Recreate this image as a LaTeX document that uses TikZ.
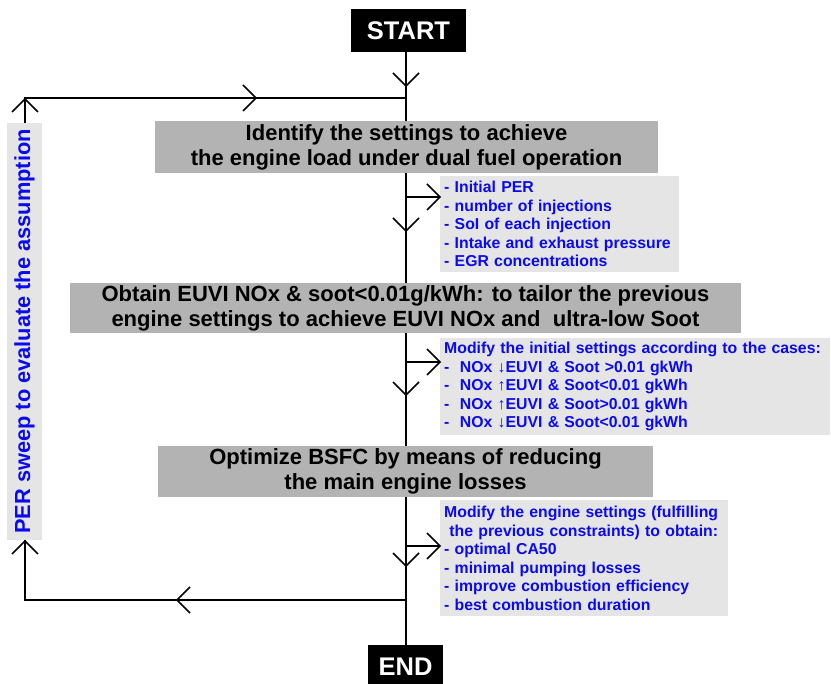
\documentclass[tikz,border=0pt]{standalone}
\usepackage{fontspec}
\setmainfont{Liberation Sans}
\usetikzlibrary{backgrounds}
\definecolor{boxgray}{RGB}{179,179,179}
\definecolor{lightbox}{RGB}{229,229,229}
\definecolor{txtblue}{RGB}{10,10,240}
\begin{document}
\begin{tikzpicture}[x=1pt,y=-1pt,
  flow/.style={line width=1.6pt, black},
  mainbox/.style={fill=boxgray, inner sep=0pt, align=center, font=\fontsize{22}{25}\selectfont\bfseries},
  notebox/.style={fill=lightbox, inner xsep=4pt, inner ysep=0pt, align=left, anchor=north west,
    font=\fontsize{15.8}{18.5}\selectfont\bfseries, text=txtblue,
    execute at begin node={\hyphenpenalty=10000\exhyphenpenalty=10000}},
  termbox/.style={fill=black, text=white, inner sep=0pt, font=\fontsize{25.5}{28}\selectfont\bfseries},
  chevD/.pic={\draw[flow] (-13,-13) -- (0,0) -- (13,-13);},
  chevU/.pic={\draw[flow] (-13,13) -- (0,0) -- (13,13);},
  chevR/.pic={\draw[flow] (-13,-13) -- (0,0) -- (-13,13);},
  chevL/.pic={\draw[flow] (13,-13) -- (0,0) -- (13,13);}
]
\useasboundingbox (0,0) rectangle (831,684);

% terminals
\node[termbox, minimum width=115pt, minimum height=43pt] (start) at (408.5,30.5) {START};
\node[termbox, minimum width=75pt, minimum height=39pt, text depth=0pt] (end) at (405.5,664.5) {\raisebox{-4pt}{END}};

% main process boxes
\node[mainbox, minimum width=503pt, minimum height=52pt] (b1) at (406.5,147)
  {Identify the settings to achieve\\the engine load under dual fuel operation};
\node[mainbox, minimum width=671pt, minimum height=50pt] (b2) at (405.5,308)
  {Obtain EUVI NOx \& soot<0.01g/kWh: to tailor the previous\\engine settings to achieve EUVI NOx and\ \ ultra-low Soot};
\node[mainbox, minimum width=495pt, minimum height=51pt] (b3) at (405.5,471.5)
  {Optimize BSFC by means of reducing\\the main engine losses};

% note boxes
\node[notebox, text width=231pt, minimum height=96pt] (l1) at (440,176)
  {- Initial PER\\- number of injections\\- SoI of each injection\\- Intake and exhaust pressure\\- EGR concentrations};
\node[notebox, text width=382pt, minimum height=97pt] (l2) at (440,338)
  {Modify the initial settings according to the cases:\\
   -\ \ NOx ↓EUVI \& Soot >0.01 gkWh\\
   -\ \ NOx ↑EUVI \& Soot<0.01 gkWh\\
   -\ \ NOx ↑EUVI \& Soot>0.01 gkWh\\
   -\ \ NOx ↓EUVI \& Soot<0.01 gkWh};
\node[notebox, text width=280pt, minimum height=116pt] (l3) at (440,500)
  {Modify the engine settings (fulfilling\\
   \ the previous constraints) to obtain:\\
   - optimal CA50\\- minimal pumping losses\\- improve combustion efficiency\\- best combustion duration};

% loop label
\node[fill=lightbox, rotate=90, minimum width=417pt, minimum height=35pt, inner sep=0pt,
      font=\fontsize{21.8}{25}\selectfont\bfseries, text=txtblue] (per) at (24.5,331.5)
  {PER sweep to evaluate the assumption};

% junction coordinates
\coordinate (top) at (406,98);
\coordinate (c1) at (25,98);
\coordinate (c2) at (25,600);
\coordinate (bot) at (406,600);
\coordinate (j1) at (406,197);
\coordinate (j2) at (406,362);
\coordinate (j3) at (406,546);

\begin{pgfonlayer}{background}
  \draw[flow] (start.south -| top) -- (end.north -| top);
  \draw[flow] (top) -- (c1) -- (c2) -- (bot);
  \draw[flow] (j1) -- (j1 -| l1.west);
  \draw[flow] (j2) -- (j2 -| l2.west);
  \draw[flow] (j3) -- (j3 -| l3.west);
\end{pgfonlayer}

% chevrons
\pic at (406,86) {chevD};
\pic at (406,231) {chevD};
\pic at (406,395) {chevD};
\pic at (406,566) {chevD};
\pic at (256,98) {chevR};
\pic at (25,99) {chevU};
\pic at (25,541) {chevU};
\pic at (177,600) {chevL};
\pic at (440,197) {chevR};
\pic at (440,362) {chevR};
\pic at (440,546) {chevR};
\end{tikzpicture}
\end{document}
